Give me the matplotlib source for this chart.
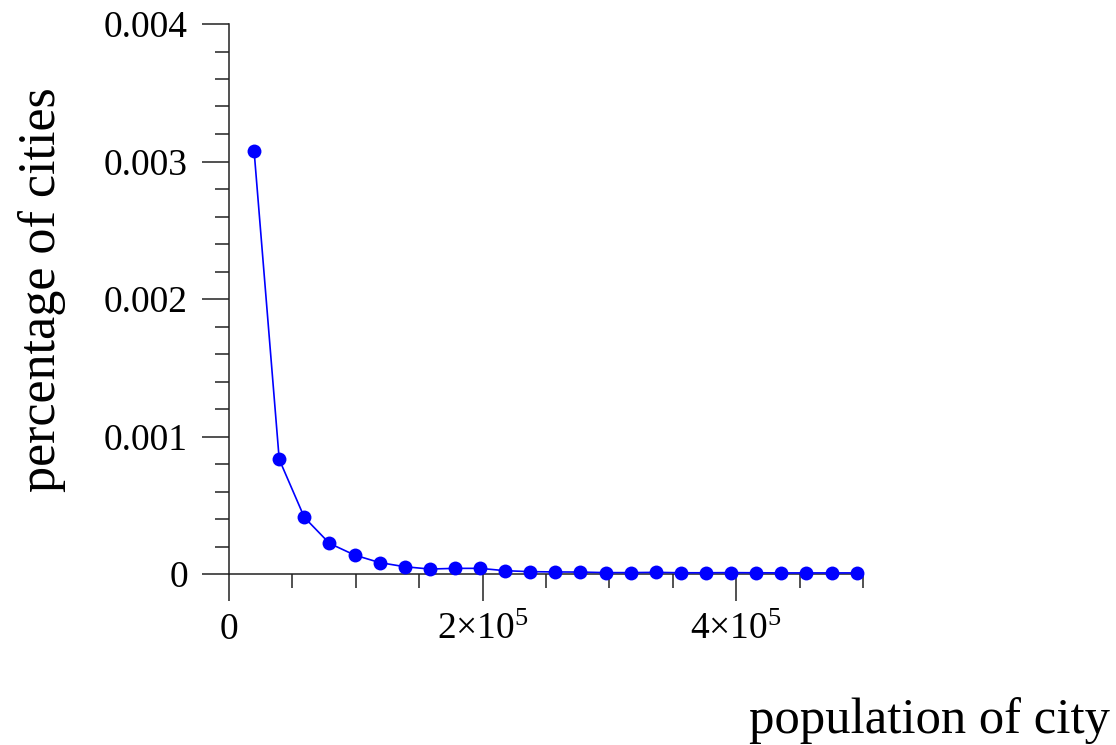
import matplotlib
matplotlib.use("Agg")
import matplotlib.pyplot as plt
from matplotlib.ticker import MultipleLocator, FixedLocator, FixedFormatter

plt.rcParams['font.family'] = ['Liberation Serif', 'DejaVu Serif']
plt.rcParams['mathtext.fontset'] = 'custom'
plt.rcParams['mathtext.rm'] = 'Liberation Serif'
plt.rcParams['mathtext.it'] = 'Liberation Serif:italic'

# Data
population = [19800, 39600, 59400, 79200, 99000, 118800, 138600, 158400, 178200,
              198000, 217800, 237600, 257400, 277200, 297000, 316800, 336600,
              356400, 376200, 396000, 415800, 435600, 455400, 475200, 495000]
share = [3.076e-3, 0.834e-3, 0.412e-3, 0.223e-3, 0.138e-3, 0.083e-3, 0.053e-3,
         0.036e-3, 0.041e-3, 0.041e-3, 0.024e-3, 0.017e-3, 0.015e-3, 0.014e-3,
         0.010e-3, 0.010e-3, 0.012e-3, 0.009e-3, 0.009e-3, 0.010e-3, 0.009e-3,
         0.008e-3, 0.008e-3, 0.008e-3, 0.008e-3]

x_ticks = [0, 200000, 400000]
x_tick_labels = ['0', r'$2{\times}10^{5}$', r'$4{\times}10^{5}$']
y_ticks = [0, 0.001, 0.002, 0.003, 0.004]
y_tick_labels = ['0', '0.001', '0.002', '0.003', '0.004']

W, H = 1116, 745
fig = plt.figure(figsize=(W / 100, H / 100), dpi=100)
ax = fig.add_axes([229 / W, 1 - 574 / H, (863 - 229) / W, (574 - 24) / H])

ax.plot(population, share, color='#0000ff', linewidth=1.2, marker='o',
        markersize=10, markeredgewidth=0, clip_on=False, zorder=3)

ax.set_xlim(0, 500000)
ax.set_ylim(0, 0.004)

for s in ['top', 'right']:
    ax.spines[s].set_visible(False)
for s in ['left', 'bottom']:
    ax.spines[s].set_linewidth(1.1)
    ax.spines[s].set_color('#222222')

ax.xaxis.set_major_locator(FixedLocator(x_ticks))
ax.xaxis.set_major_formatter(FixedFormatter(x_tick_labels))
ax.xaxis.set_minor_locator(MultipleLocator(50000))
ax.yaxis.set_major_locator(FixedLocator(y_ticks))
ax.yaxis.set_major_formatter(FixedFormatter(y_tick_labels))
ax.yaxis.set_minor_locator(MultipleLocator(0.0002))

ax.tick_params(axis='both', which='major', direction='out', length=19.5,
               width=1.1, color='#222222', labelsize=27)
ax.tick_params(axis='both', which='minor', direction='out', length=10,
               width=1.1, color='#222222')
ax.tick_params(axis='y', which='major', pad=10)
ax.tick_params(axis='x', which='major', pad=8)

fig.text(42 / W, 1 - 290 / H, 'percentage of cities', rotation=90,
         ha='center', va='center', fontsize=37.5, color='black')
fig.text(1110 / W, 1 - 733 / H, 'population of city', ha='right',
         va='baseline', fontsize=36.5, color='black')

fig.savefig('out.png', dpi=100, facecolor='white')
